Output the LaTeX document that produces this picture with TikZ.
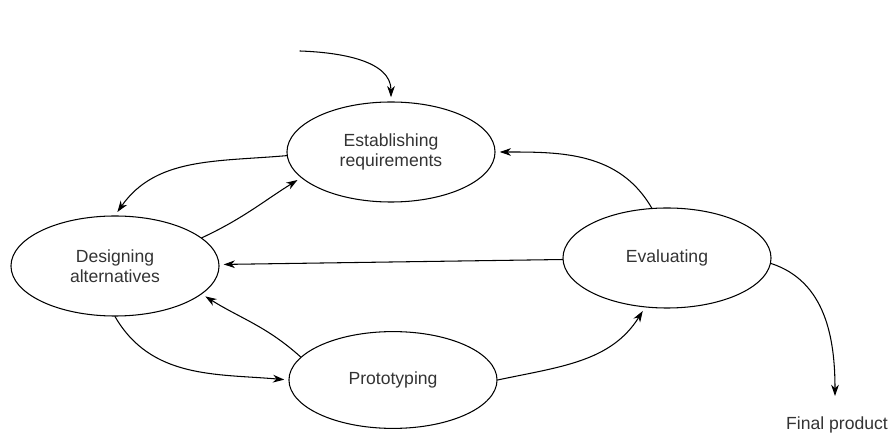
\documentclass[tikz,border=0pt]{standalone}
\usepackage{fontspec}
\setmainfont{Liberation Sans}
\usetikzlibrary{shapes.geometric,arrows.meta}
\begin{document}
\begin{tikzpicture}[x=0.025cm, y=0.025cm, line join=round, line cap=round,
  font=\fontsize{12.5}{14}\selectfont,
  stage/.style={ellipse, draw, line width=0.75pt, inner sep=0pt, align=center,
    text=black!80, minimum width=5.2cm, minimum height=2.5cm},
  flow/.style={-{Stealth[length=8pt,width=5.5pt,inset=2.5pt]}, line width=0.75pt, shorten >=3pt}]
\useasboundingbox (0,0) rectangle (889,441);
% The four activities
\node[stage] (req) at (391,289) {Establishing\\requirements};
\node[stage] (des) at (115,175) {Designing\\alternatives};
\node[stage] (eval) at (667,183) {Evaluating};
\node[stage, minimum height=2.42cm] (proto) at (393,61) {Prototyping};
% Exit label
\node[text=black!80] (final) at (837,16) {Final product};
\coordinate (entry) at (300,390);
\coordinate (done) at (835,45);
% Connectors
\draw[flow] (entry) to[out=-2, in=90] (req.north);
\draw[flow] (req.182) to[out=185, in=55] (des.north);
\draw[flow] (des.18) to[out=25, in=212] (req.196);
\draw[flow] (eval) -- (des);
\draw[flow] (eval.107) to[out=120, in=0] (req.east);
\draw[flow] (proto.166) to[out=138, in=-32] (des.342);
\draw[flow] (des.south) to[out=-60, in=175] (proto.west);
\draw[flow] (proto.east) to[out=12, in=-122] (eval.246);
\draw[flow, shorten >=0pt] (eval.-3) to[out=-18, in=90] (done);
\end{tikzpicture}
\end{document}
